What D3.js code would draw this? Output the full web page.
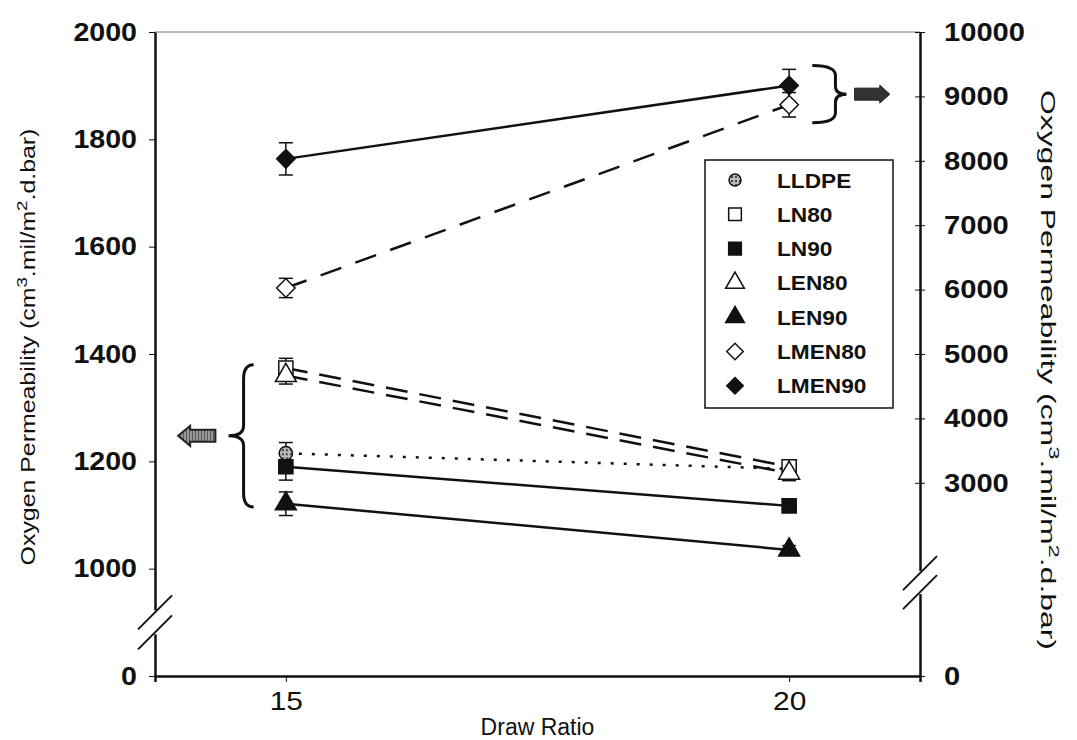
<!DOCTYPE html>
<html>
<head>
<script src="https://d3js.org/d3.v7.min.js"></script>
<style>
  body { margin: 0; background: #fff; }
  svg { font-family: Arial, "Liberation Sans", sans-serif; }
  .axis path, .axis line { stroke: #111; }
  .ylab text { font-weight: bold; font-size: 26px; fill: #111; }
  .xlab text { font-size: 26px; fill: #111; }
  .title { font-size: 20px; fill: #111; }
  .legend text { font-weight: bold; font-size: 21px; fill: #111; }
</style>
</head>
<body>
<script>
// ---- data ----
var drawRatio = [15, 20];

// left axis series (values in cm3.mil/m2.d.bar)
var LLDPE  = [1215, 1186];
var LN80   = [1374, 1190];
var LN90   = [1190, 1117];
var LEN80  = [1360, 1178];
var LEN90  = [1121, 1035];
// right axis series
var LMEN80 = [6025, 8870];
var LMEN90 = [8030, 9170];

// error bars (+/-)
var errLLDPE  = [20, 12];
var errLN80   = [18, 12];
var errLN90   = [25, 12];
var errLEN80  = [16, 14];
var errLEN90  = [22, 8];
var errLMEN80 = [150, 190];
var errLMEN90 = [250, 250];

var leftTicks  = [800, 1000, 1200, 1400, 1600, 1800, 2000];
var leftLabels = ["0", "1000", "1200", "1400", "1600", "1800", "2000"];
var rightTicks = [0, 3000, 4000, 5000, 6000, 7000, 8000, 9000, 10000];
var xTicks = [15, 20];

var series = [
  {name: "LLDPE",  v: LLDPE,  e: errLLDPE,  axis: "L", sym: "circle",   fill: "url(#dots)", dash: "3,10"},
  {name: "LN80",   v: LN80,   e: errLN80,   axis: "L", sym: "square",   fill: "#fff", dash: "22,12"},
  {name: "LN90",   v: LN90,   e: errLN90,   axis: "L", sym: "square",   fill: "#111", dash: null},
  {name: "LEN80",  v: LEN80,  e: errLEN80,  axis: "L", sym: "triangle", fill: "#fff", dash: "22,12"},
  {name: "LEN90",  v: LEN90,  e: errLEN90,  axis: "L", sym: "triangle", fill: "#111", dash: null},
  {name: "LMEN80", v: LMEN80, e: errLMEN80, axis: "R", sym: "diamond",  fill: "#fff", dash: "22,15"},
  {name: "LMEN90", v: LMEN90, e: errLMEN90, axis: "R", sym: "diamond",  fill: "#111", dash: null}
];

var W = 1077, H = 740;
var margin = {top: 32, right: 157, bottom: 64, left: 155};

var svg = d3.select("body").append("svg")
    .attr("width", W).attr("height", H);

var defs = svg.append("defs");
var pat = defs.append("pattern").attr("id", "dots")
    .attr("width", 4).attr("height", 4).attr("patternUnits", "userSpaceOnUse");
pat.append("rect").attr("width", 4).attr("height", 4).attr("fill", "#bbb");
pat.append("rect").attr("width", 2).attr("height", 2).attr("fill", "#444");
var hatch = defs.append("pattern").attr("id", "hatch")
    .attr("width", 3).attr("height", 3).attr("patternUnits", "userSpaceOnUse");
hatch.append("rect").attr("width", 3).attr("height", 3).attr("fill", "#999");
hatch.append("rect").attr("width", 1).attr("height", 3).attr("fill", "#555");

var x = d3.scaleLinear().domain([13.7, 21.3]).range([margin.left, W - margin.right]);
var yL = d3.scaleLinear().domain([800, 2000]).range([H - margin.bottom, margin.top]);
var yR = d3.scaleLinear().domain([0, 10000]).range([H - margin.bottom, margin.top]);

// tick labels in the original are a bit wider than Arial
function widen(sel, k) {
  sel.selectAll(".tick text").each(function() {
    var w = this.getComputedTextLength();
    d3.select(this).attr("textLength", w * k).attr("lengthAdjust", "spacingAndGlyphs");
  });
}

// top border
svg.append("line")
    .attr("x1", x.range()[0]).attr("x2", x.range()[1])
    .attr("y1", margin.top).attr("y2", margin.top)
    .attr("stroke", "#777").attr("stroke-width", 1);

// x axis
var gx = svg.append("g").attr("class", "axis xlab")
    .attr("transform", "translate(0," + (H - margin.bottom) + ")")
    .call(d3.axisBottom(x).tickValues(xTicks).tickSize(6).tickSizeOuter(6).tickPadding(10));
gx.select(".domain").attr("stroke-width", 2.5);
widen(gx, 1.15);

// left axis
var gl = svg.append("g").attr("class", "axis ylab")
    .attr("transform", "translate(" + margin.left + ",0)")
    .call(d3.axisLeft(yL).tickValues(leftTicks)
      .tickFormat(function(d, i) { return leftLabels[i]; })
      .tickSize(6).tickSizeOuter(0).tickPadding(12));
gl.select(".domain").attr("stroke-width", 2.5);
widen(gl, 1.1);

// right axis
var gr = svg.append("g").attr("class", "axis ylab")
    .attr("transform", "translate(" + (W - margin.right) + ",0)")
    .call(d3.axisRight(yR).tickValues(rightTicks).tickFormat(d3.format("d"))
      .tickSize(6).tickSizeOuter(0).tickPadding(18));
gr.select(".domain").attr("stroke-width", 2.5);
gr.selectAll(".tick line").attr("x1", -5).attr("x2", 5);
widen(gr, 1.12);

// axis breaks
function axisBreak(cx, cy, gap) {
  var g = svg.append("g");
  g.append("rect").attr("x", cx - 4).attr("y", cy - gap / 2 - 2)
    .attr("width", 8).attr("height", gap + 4).attr("fill", "#fff");
  [-gap / 2, gap / 2].forEach(function(o) {
    g.append("line")
      .attr("x1", cx - 17).attr("y1", cy + o + 17)
      .attr("x2", cx + 17).attr("y2", cy + o - 17)
      .attr("stroke", "#111").attr("stroke-width", 2);
  });
}
axisBreak(x.range()[0], yL(900), 20);
axisBreak(x.range()[1], yR(1450), 19);

// titles, stretched along their length like the original
function permTitle(cx, cy, angle, len) {
  var g = svg.append("g");
  var t = g.append("text").attr("class", "title").attr("text-anchor", "middle");
  t.append("tspan").text("Oxygen Permeability (cm");
  t.append("tspan").attr("baseline-shift", "super").style("font-size", "15px").text("3");
  t.append("tspan").text(".mil/m");
  t.append("tspan").attr("baseline-shift", "super").style("font-size", "15px").text("2");
  t.append("tspan").text(".d.bar)");
  var w = t.node().getComputedTextLength();
  g.attr("transform", "translate(" + cx + "," + cy + ") rotate(" + angle + ") scale(" + (len / w) + ",1)");
}
permTitle(35, 347, -90, 437);
permTitle(1041, 370, 90, 560);

svg.append("text").attr("class", "title")
    .attr("x", (x.range()[0] + x.range()[1]) / 2).attr("y", 735)
    .attr("text-anchor", "middle").style("font-size", "23px")
    .text("Draw Ratio");

// symbols
var diamond = {
  draw: function(ctx, size) {
    var r = Math.sqrt(size / 2);
    ctx.moveTo(0, -r); ctx.lineTo(r, 0); ctx.lineTo(0, r); ctx.lineTo(-r, 0); ctx.closePath();
  }
};
var symType = {
  circle: d3.symbolCircle, square: d3.symbolSquare,
  triangle: d3.symbolTriangle, diamond: diamond
};
var symSize = {circle: 140, square: 200, triangle: 190, diamond: 170};

var plot = svg.append("g");

// lines
series.forEach(function(s) {
  var yS = s.axis === "L" ? yL : yR;
  var line = d3.line()
      .x(function(d, i) { return x(drawRatio[i]); })
      .y(function(d) { return yS(d); });
  plot.append("path")
      .attr("d", line(s.v))
      .attr("fill", "none")
      .attr("stroke", "#111")
      .attr("stroke-width", 2.5)
      .attr("stroke-dasharray", s.dash);
});

// error bars
series.forEach(function(s) {
  var yS = s.axis === "L" ? yL : yR;
  s.v.forEach(function(v, i) {
    var cx = x(drawRatio[i]);
    var g = plot.append("g").attr("stroke", "#111").attr("stroke-width", 1.5);
    g.append("line").attr("x1", cx).attr("x2", cx)
      .attr("y1", yS(v - s.e[i])).attr("y2", yS(v + s.e[i]));
    [v - s.e[i], v + s.e[i]].forEach(function(b) {
      g.append("line").attr("x1", cx - 7).attr("x2", cx + 7)
        .attr("y1", yS(b)).attr("y2", yS(b));
    });
  });
});

// markers
series.forEach(function(s) {
  var yS = s.axis === "L" ? yL : yR;
  plot.selectAll(null).data(s.v).enter().append("path")
      .attr("d", d3.symbol().type(symType[s.sym]).size(symSize[s.sym]))
      .attr("transform", function(d, i) {
        return "translate(" + x(drawRatio[i]) + "," + yS(d) + ")";
      })
      .attr("fill", s.fill)
      .attr("stroke", "#111")
      .attr("stroke-width", 1.5);
});

// brackets and arrows
var lTop = yL(1380), lBot = yL(1115), lMid = (lTop + lBot) / 2;
var bx = x(14.58), tipX = x(14.43), endX = x(14.68);
svg.append("path")
    .attr("d", "M" + endX + "," + lTop +
      " Q" + bx + "," + lTop + " " + bx + "," + (lTop + 14) +
      " L" + bx + "," + (lMid - 10) +
      " Q" + bx + "," + lMid + " " + tipX + "," + lMid +
      " Q" + bx + "," + lMid + " " + bx + "," + (lMid + 10) +
      " L" + bx + "," + (lBot - 14) +
      " Q" + bx + "," + lBot + " " + endX + "," + lBot)
    .attr("fill", "none").attr("stroke", "#111").attr("stroke-width", 3);

var ax0 = x(13.93), ax1 = x(14.30), ah = 8;
svg.append("path")
    .attr("d", "M" + ax0 + "," + lMid +
      " L" + (ax0 + 12) + "," + (lMid - ah - 2) +
      " L" + (ax0 + 12) + "," + (lMid - ah + 2) +
      " L" + ax1 + "," + (lMid - ah + 2) +
      " L" + ax1 + "," + (lMid + ah - 2) +
      " L" + (ax0 + 12) + "," + (lMid + ah - 2) +
      " L" + (ax0 + 12) + "," + (lMid + ah + 2) + " Z")
    .attr("fill", "url(#hatch)").attr("stroke", "#222").attr("stroke-width", 2);

var rTop = yR(9480), rBot = yR(8590), rMid = (rTop + rBot) / 2;
var rbx = x(20.46), rtip = x(20.57), rend = x(20.23);
svg.append("path")
    .attr("d", "M" + rend + "," + rTop +
      " Q" + rbx + "," + rTop + " " + rbx + "," + (rTop + 10) +
      " L" + rbx + "," + (rMid - 8) +
      " Q" + rbx + "," + rMid + " " + rtip + "," + rMid +
      " Q" + rbx + "," + rMid + " " + rbx + "," + (rMid + 8) +
      " L" + rbx + "," + (rBot - 10) +
      " Q" + rbx + "," + rBot + " " + rend + "," + rBot)
    .attr("fill", "none").attr("stroke", "#111").attr("stroke-width", 3);

var rx0 = x(20.65), rx1 = x(21.0);
svg.append("path")
    .attr("d", "M" + rx0 + "," + (rMid - 6) +
      " L" + (rx1 - 10) + "," + (rMid - 6) +
      " L" + (rx1 - 10) + "," + (rMid - 9) +
      " L" + rx1 + "," + rMid +
      " L" + (rx1 - 10) + "," + (rMid + 9) +
      " L" + (rx1 - 10) + "," + (rMid + 6) +
      " L" + rx0 + "," + (rMid + 6) + " Z")
    .attr("fill", "#333").attr("stroke", "#222").attr("stroke-width", 1);

// legend
var leg = svg.append("g").attr("class", "legend").attr("transform", "translate(705,160)");
leg.append("rect").attr("width", 188).attr("height", 248)
    .attr("fill", "#fff").attr("stroke", "#111").attr("stroke-width", 1.5);
var items = leg.selectAll("g.item").data(series).enter().append("g")
    .attr("class", "item")
    .attr("transform", function(d, i) { return "translate(0," + (20 + i * 34.3) + ")"; });
items.append("path")
    .attr("d", function(d) { return d3.symbol().type(symType[d.sym]).size(symSize[d.sym] * 0.8)(); })
    .attr("transform", "translate(30,0)")
    .attr("fill", function(d) { return d.fill; })
    .attr("stroke", "#111").attr("stroke-width", 1.5);
items.append("text").attr("dy", "0.36em")
    .attr("transform", "translate(72,0) scale(1.08,1)")
    .text(function(d) { return d.name; });
</script>
</body>
</html>
